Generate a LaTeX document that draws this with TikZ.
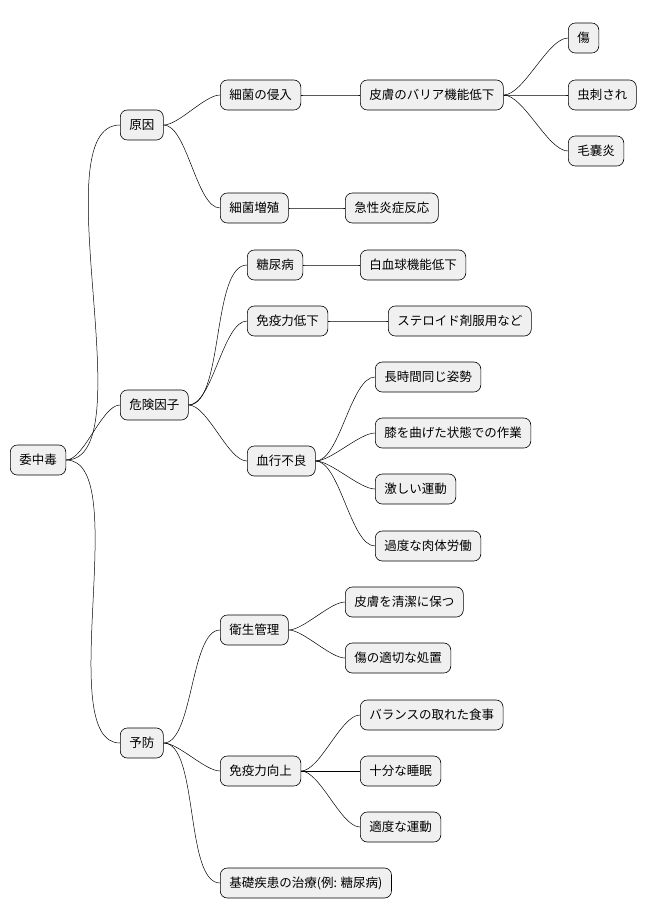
\documentclass[tikz,border=0pt]{standalone}
\usepackage{fontspec}
\setmainfont{Noto Sans CJK JP}
\begin{document}
\begin{tikzpicture}[x=1pt,y=-1pt,
  box/.style={draw=black,fill=black!6,rounded corners=7pt,minimum height=30pt,inner xsep=9pt,anchor=west,font=\fontsize{12.5}{14}\selectfont,line width=0.6pt},
  edge/.style={draw=black,line width=0.5pt},
  lk/.style={edge,out=0,in=180,looseness=0.6}]
\useasboundingbox (0,0) rectangle (656,921);
\node[box] (r) at (10,460) {委中毒};
\node[box] (a) at (120,125) {原因};
\node[box] (b) at (120,405) {危険因子};
\node[box] (c) at (120,743) {予防};
\node[box] (a1) at (220,95) {細菌の侵入};
\node[box] (a2) at (220,208) {細菌増殖};
\node[box] (b1) at (247,265) {糖尿病};
\node[box] (b2) at (247,321) {免疫力低下};
\node[box] (b3) at (247,461) {血行不良};
\node[box] (c1) at (220,630) {衛生管理};
\node[box] (c2) at (220,771) {免疫力向上};
\node[box] (c3) at (220,883) {基礎疾患の治療(例: 糖尿病)};
\node[box] (a11) at (360,95) {皮膚のバリア機能低下};
\node[box] (x1) at (568,38) {傷};
\node[box] (x2) at (568,95) {虫刺され};
\node[box] (x3) at (568,151) {毛嚢炎};
\node[box] (a21) at (345,208) {急性炎症反応};
\node[box] (b11) at (360,265) {白血球機能低下};
\node[box] (b21) at (388,321) {ステロイド剤服用など};
\node[box] (b31) at (375,377) {長時間同じ姿勢};
\node[box] (b32) at (375,433) {膝を曲げた状態での作業};
\node[box] (b33) at (375,489) {激しい運動};
\node[box] (b34) at (375,546) {過度な肉体労働};
\node[box] (c11) at (345,602) {皮膚を清潔に保つ};
\node[box] (c12) at (345,658) {傷の適切な処置};
\node[box] (c21) at (360,715) {バランスの取れた食事};
\node[box] (c22) at (360,771) {十分な睡眠};
\node[box] (c23) at (360,827) {適度な運動};
\foreach \p/\c in {r/a,r/b,r/c,a/a1,a/a2,b/b1,b/b2,b/b3,c/c1,c/c2,c/c3,a1/a11,a11/x1,a11/x2,a11/x3,a2/a21,b1/b11,b2/b21,b3/b31,b3/b32,b3/b33,b3/b34,c1/c11,c1/c12,c2/c21,c2/c22,c2/c23}
  \draw[lk] (\p.east) to (\c.west);
\end{tikzpicture}
\end{document}
